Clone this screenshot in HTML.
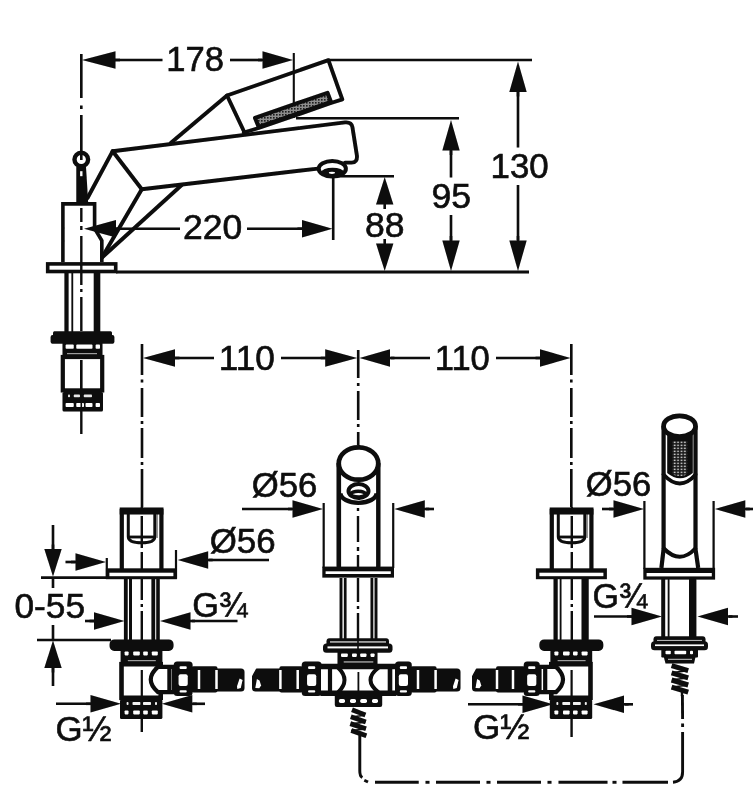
<!DOCTYPE html>
<html lang="en"><head><meta charset="utf-8"><title>Bath mixer dimensional drawing</title>
<style>
html,body{margin:0;padding:0;background:#fff;}
body{width:753px;height:800px;overflow:hidden;}
svg{display:block;}
svg text{font-family:"Liberation Sans",Arial,Helvetica,sans-serif;fill:#0a0a0a;stroke:#0a0a0a;stroke-width:0.6px;}
</style></head>
<body>
<svg width="753" height="800" viewBox="0 0 753 800">
<rect width="753" height="800" fill="#fff"/>
<defs><filter id="soft" x="0" y="0" width="753" height="800" filterUnits="userSpaceOnUse"><feGaussianBlur stdDeviation="0.45"/></filter></defs>
<g filter="url(#soft)">
<line x1="81.3" y1="54" x2="81.3" y2="98" stroke="#0a0a0a" stroke-width="2.6" />
<line x1="81.3" y1="105.5" x2="81.3" y2="109" stroke="#0a0a0a" stroke-width="2.6" />
<line x1="81.3" y1="115" x2="81.3" y2="152" stroke="#0a0a0a" stroke-width="2.6" />
<polygon points="82,60 115.5,51.3 115.5,68.7" fill="#0a0a0a" stroke="none" stroke-width="0" />
<line x1="114.5" y1="60" x2="120.0" y2="60" stroke="#0a0a0a" stroke-width="2.6" />
<line x1="115" y1="60" x2="162.5" y2="60" stroke="#0a0a0a" stroke-width="2.6" />
<text transform="translate(166.37,71.33) scale(0.9891,1)" font-size="35">178</text>
<line x1="230" y1="60" x2="262" y2="60" stroke="#0a0a0a" stroke-width="2.6" />
<polygon points="293,60 262.5,51.3 262.5,68.7" fill="#0a0a0a" stroke="none" stroke-width="0" />
<line x1="263.5" y1="60" x2="258.0" y2="60" stroke="#0a0a0a" stroke-width="2.6" />
<line x1="293.8" y1="53" x2="293.8" y2="118" stroke="#0a0a0a" stroke-width="2.1" />
<line x1="328" y1="60" x2="532" y2="60" stroke="#0a0a0a" stroke-width="2.6" />
<line x1="296" y1="118.3" x2="459" y2="118.3" stroke="#0a0a0a" stroke-width="2.6" />
<line x1="332" y1="176.3" x2="394" y2="176.3" stroke="#0a0a0a" stroke-width="2.6" />
<line x1="333.2" y1="176" x2="333.2" y2="240" stroke="#0a0a0a" stroke-width="2.6" />
<polygon points="84,228.7 116,220.0 116,237.39999999999998" fill="#0a0a0a" stroke="none" stroke-width="0" />
<line x1="115" y1="228.7" x2="120.5" y2="228.7" stroke="#0a0a0a" stroke-width="2.6" />
<line x1="116" y1="228.7" x2="180" y2="228.7" stroke="#0a0a0a" stroke-width="2.6" />
<text transform="translate(182.98,239.43) scale(1.0135,1)" font-size="35">220</text>
<line x1="247" y1="228.7" x2="302" y2="228.7" stroke="#0a0a0a" stroke-width="2.6" />
<polygon points="332.5,228.7 302.0,220.0 302.0,237.39999999999998" fill="#0a0a0a" stroke="none" stroke-width="0" />
<line x1="303.0" y1="228.7" x2="297.5" y2="228.7" stroke="#0a0a0a" stroke-width="2.6" />
<line x1="116" y1="272" x2="529" y2="272" stroke="#0a0a0a" stroke-width="3" />
<polygon points="384.7,177 376.0,204.5 393.4,204.5" fill="#0a0a0a" stroke="none" stroke-width="0" />
<line x1="384.7" y1="203.5" x2="384.7" y2="209.0" stroke="#0a0a0a" stroke-width="2.6" />
<polygon points="384.7,271 376.0,243.5 393.4,243.5" fill="#0a0a0a" stroke="none" stroke-width="0" />
<line x1="384.7" y1="244.5" x2="384.7" y2="239.0" stroke="#0a0a0a" stroke-width="2.6" />
<text transform="translate(364.93,236.93) scale(1.0164,1)" font-size="35">88</text>
<polygon points="451,120 442.3,150.5 459.7,150.5" fill="#0a0a0a" stroke="none" stroke-width="0" />
<line x1="451" y1="149.5" x2="451" y2="155.0" stroke="#0a0a0a" stroke-width="2.6" />
<line x1="451" y1="150" x2="451" y2="177.5" stroke="#0a0a0a" stroke-width="2.6" />
<text transform="translate(431.43,208.43) scale(1.0164,1)" font-size="35">95</text>
<line x1="451" y1="215" x2="451" y2="242" stroke="#0a0a0a" stroke-width="2.6" />
<polygon points="451,271 442.3,240.5 459.7,240.5" fill="#0a0a0a" stroke="none" stroke-width="0" />
<line x1="451" y1="241.5" x2="451" y2="236.0" stroke="#0a0a0a" stroke-width="2.6" />
<polygon points="518,61.5 509.3,92.0 526.7,92.0" fill="#0a0a0a" stroke="none" stroke-width="0" />
<line x1="518" y1="91.0" x2="518" y2="96.5" stroke="#0a0a0a" stroke-width="2.6" />
<line x1="518" y1="92" x2="518" y2="147.5" stroke="#0a0a0a" stroke-width="2.6" />
<text transform="translate(490.51,177.62) scale(0.9955,1)" font-size="35">130</text>
<line x1="518" y1="185" x2="518" y2="240" stroke="#0a0a0a" stroke-width="2.6" />
<polygon points="518,271 509.3,240.5 526.7,240.5" fill="#0a0a0a" stroke="none" stroke-width="0" />
<line x1="518" y1="241.5" x2="518" y2="236.0" stroke="#0a0a0a" stroke-width="2.6" />
<polyline points="171,142.7 227,95.5 328.4,60.2 342.3,99.3 331,103 258.7,128 243.8,132.5" fill="none" stroke="#0a0a0a" stroke-width="3.9" stroke-linejoin="round" stroke-linecap="round"/>
<polyline points="227,95.5 244.5,132.5" fill="none" stroke="#0a0a0a" stroke-width="3.9" stroke-linejoin="round" stroke-linecap="round"/>
<defs><pattern id="ht" width="3" height="3" patternUnits="userSpaceOnUse"><rect width="3" height="3" fill="#8c8c8c"/><rect width="1.6" height="1.6" fill="#1c1c1c"/></pattern></defs>
<polygon points="255,117.9 327.5,92.8 331,102 258.7,127" fill="url(#ht)" stroke="#0a0a0a" stroke-width="4" stroke-linejoin="round"/>
<path d="M112.7,151.2 L345,122.4 Q351.4,121.8 352.4,127 L356.9,155.5 Q357.6,162.6 351.5,162.6 L345,162.6" fill="none" stroke="#0a0a0a" stroke-width="3.9" stroke-linejoin="round" stroke-linecap="round"/>
<polyline points="141.8,189.2 318,168.6" fill="none" stroke="#0a0a0a" stroke-width="3.9" stroke-linejoin="round" stroke-linecap="round"/>
<polyline points="112.7,151.2 141.8,189.2" fill="none" stroke="#0a0a0a" stroke-width="3.9" stroke-linejoin="round" stroke-linecap="round"/>
<polyline points="112.7,151.2 87.5,198" fill="none" stroke="#0a0a0a" stroke-width="3.9" stroke-linejoin="round" stroke-linecap="round"/>
<polyline points="141.8,189.2 102,257.5" fill="none" stroke="#0a0a0a" stroke-width="3.9" stroke-linejoin="round" stroke-linecap="round"/>
<polyline points="181.7,185 102,257.5" fill="none" stroke="#0a0a0a" stroke-width="3.9" stroke-linejoin="round" stroke-linecap="round"/>
<ellipse cx="332.3" cy="168.8" rx="13.6" ry="7.8" fill="#fff" stroke="#0a0a0a" stroke-width="4"/>
<ellipse cx="332.6" cy="172.4" rx="11.2" ry="4.7" fill="#0a0a0a"/>
<ellipse cx="332" cy="172.8" rx="3.2" ry="1.1" fill="#fff"/>
<circle cx="81.3" cy="159.5" r="6.8" fill="#fff" stroke="#0a0a0a" stroke-width="4.4"/>
<line x1="81.3" y1="152" x2="81.3" y2="160" stroke="#0a0a0a" stroke-width="2.6" />
<polygon points="76.3,166.5 86,166.5 88.2,203 76.3,203" fill="#0a0a0a" stroke="none" stroke-width="0" />
<line x1="81.3" y1="171.2" x2="81.3" y2="176.2"  stroke-width="2.4" stroke="#fff"/>
<path d="M62.9,262 L62.9,203.9 L94.6,203.9 L94.6,228.5 L101.8,240.5 L101.8,262" fill="none" stroke="#0a0a0a" stroke-width="3.6" stroke-linejoin="miter"/>
<rect x="47.7" y="263.9" width="68" height="7.6" rx="0" fill="#fff" stroke="#0a0a0a" stroke-width="3.6"/>
<line x1="66.5" y1="273" x2="66.5" y2="332" stroke="#0a0a0a" stroke-width="4.2" />
<line x1="72.3" y1="273" x2="72.3" y2="332" stroke="#0a0a0a" stroke-width="1.8" />
<line x1="97" y1="273" x2="97" y2="332" stroke="#0a0a0a" stroke-width="6.6" />
<line x1="81.3" y1="208" x2="81.3" y2="222" stroke="#0a0a0a" stroke-width="2.4" />
<line x1="81.3" y1="226" x2="81.3" y2="230" stroke="#0a0a0a" stroke-width="2.4" />
<line x1="81.3" y1="236" x2="81.3" y2="262" stroke="#0a0a0a" stroke-width="2.4" />
<line x1="81.3" y1="262" x2="81.3" y2="285" stroke="#0a0a0a" stroke-width="2.4" />
<line x1="81.3" y1="289" x2="81.3" y2="292" stroke="#0a0a0a" stroke-width="2.4" />
<line x1="81.3" y1="297" x2="81.3" y2="331" stroke="#0a0a0a" stroke-width="2.4" />
<line x1="81.3" y1="356" x2="81.3" y2="392" stroke="#0a0a0a" stroke-width="2.4" />
<line x1="81.3" y1="410" x2="81.3" y2="434" stroke="#0a0a0a" stroke-width="2.4" />
<rect x="53" y="331.2" width="59" height="7" rx="1.5" fill="#0a0a0a"/>
<rect x="50.6" y="335" width="63.8" height="8.8" rx="2" fill="#0a0a0a"/>
<rect x="62.5" y="343" width="40" height="13" fill="#0a0a0a"/>
<rect x="65.6" y="344.6" width="8.15" height="4.2" rx="0.8" fill="#fff" opacity="1"/>
<rect x="76.25" y="344.6" width="16.25" height="4.2" rx="0.8" fill="#fff" opacity="1"/>
<rect x="95.6" y="344.6" width="4.4" height="4.2" rx="0.8" fill="#fff" opacity="1"/>
<rect x="67" y="353.2" width="30" height="1.0" rx="0" fill="#fff" opacity="0.75"/>
<rect x="62.8" y="357" width="39.4" height="33.4" rx="0" fill="#fff" stroke="#0a0a0a" stroke-width="4.2"/>
<line x1="81.3" y1="360" x2="81.3" y2="392" stroke="#0a0a0a" stroke-width="2.6" />
<rect x="62.5" y="392" width="40.5" height="19.4" rx="1.5" fill="#0a0a0a"/>
<rect x="68" y="394.6" width="2" height="2.7" rx="0.8" fill="#fff" opacity="0.9"/>
<rect x="73.75" y="394.6" width="6.25" height="2.7" rx="0.8" fill="#fff" opacity="0.9"/>
<rect x="83.75" y="394.6" width="8.25" height="2.7" rx="0.8" fill="#fff" opacity="0.9"/>
<rect x="65.6" y="403" width="8.15" height="4" rx="0.8" fill="#fff" opacity="1"/>
<rect x="76.25" y="403" width="7.75" height="4" rx="0.8" fill="#fff" opacity="1"/>
<rect x="85.5" y="403" width="7.0" height="4" rx="0.8" fill="#fff" opacity="1"/>
<rect x="95.6" y="403" width="4.4" height="4" rx="0.8" fill="#fff" opacity="1"/>
<line x1="81.3" y1="392" x2="81.3" y2="412" stroke="#0a0a0a" stroke-width="1.6" />
<line x1="142" y1="344" x2="142" y2="375" stroke="#0a0a0a" stroke-width="2.6" />
<line x1="142" y1="379.5" x2="142" y2="382.5" stroke="#0a0a0a" stroke-width="2.6" />
<line x1="142" y1="388" x2="142" y2="417" stroke="#0a0a0a" stroke-width="2.6" />
<line x1="142" y1="421" x2="142" y2="424" stroke="#0a0a0a" stroke-width="2.6" />
<line x1="142" y1="428" x2="142" y2="458" stroke="#0a0a0a" stroke-width="2.6" />
<line x1="142" y1="462" x2="142" y2="465" stroke="#0a0a0a" stroke-width="2.6" />
<line x1="142" y1="469" x2="142" y2="507" stroke="#0a0a0a" stroke-width="2.6" />
<line x1="571.3" y1="344" x2="571.3" y2="375" stroke="#0a0a0a" stroke-width="2.6" />
<line x1="571.3" y1="379.5" x2="571.3" y2="382.5" stroke="#0a0a0a" stroke-width="2.6" />
<line x1="571.3" y1="388" x2="571.3" y2="417" stroke="#0a0a0a" stroke-width="2.6" />
<line x1="571.3" y1="421" x2="571.3" y2="424" stroke="#0a0a0a" stroke-width="2.6" />
<line x1="571.3" y1="428" x2="571.3" y2="458" stroke="#0a0a0a" stroke-width="2.6" />
<line x1="571.3" y1="462" x2="571.3" y2="465" stroke="#0a0a0a" stroke-width="2.6" />
<line x1="571.3" y1="469" x2="571.3" y2="507" stroke="#0a0a0a" stroke-width="2.6" />
<line x1="358.2" y1="350" x2="358.2" y2="378" stroke="#0a0a0a" stroke-width="2.6" />
<line x1="358.2" y1="383" x2="358.2" y2="386" stroke="#0a0a0a" stroke-width="2.6" />
<line x1="358.2" y1="391" x2="358.2" y2="420" stroke="#0a0a0a" stroke-width="2.6" />
<line x1="358.2" y1="424" x2="358.2" y2="427" stroke="#0a0a0a" stroke-width="2.6" />
<line x1="358.2" y1="432" x2="358.2" y2="445" stroke="#0a0a0a" stroke-width="2.6" />
<polygon points="143,358 175,349.3 175,366.7" fill="#0a0a0a" stroke="none" stroke-width="0" />
<line x1="174" y1="358" x2="179.5" y2="358" stroke="#0a0a0a" stroke-width="2.6" />
<line x1="175" y1="358" x2="214" y2="358" stroke="#0a0a0a" stroke-width="2.6" />
<text transform="translate(218.74,369.52) scale(1.0048,1)" font-size="35">110</text>
<line x1="281" y1="358" x2="326" y2="358" stroke="#0a0a0a" stroke-width="2.6" />
<polygon points="357.2,358 325.2,349.3 325.2,366.7" fill="#0a0a0a" stroke="none" stroke-width="0" />
<line x1="326.2" y1="358" x2="320.7" y2="358" stroke="#0a0a0a" stroke-width="2.6" />
<polygon points="359.5,358 390.0,349.3 390.0,366.7" fill="#0a0a0a" stroke="none" stroke-width="0" />
<line x1="389.0" y1="358" x2="394.5" y2="358" stroke="#0a0a0a" stroke-width="2.6" />
<line x1="391" y1="358" x2="430" y2="358" stroke="#0a0a0a" stroke-width="2.6" />
<text transform="translate(434.78,369.52) scale(0.9857,1)" font-size="35">110</text>
<line x1="496" y1="358" x2="540" y2="358" stroke="#0a0a0a" stroke-width="2.6" />
<polygon points="570.5,358 540.0,349.3 540.0,366.7" fill="#0a0a0a" stroke="none" stroke-width="0" />
<line x1="541.0" y1="358" x2="535.5" y2="358" stroke="#0a0a0a" stroke-width="2.6" />
<text transform="translate(251.76,497.40) scale(0.9922,1)" font-size="35">Ø56</text>
<line x1="242" y1="509" x2="292" y2="509" stroke="#0a0a0a" stroke-width="2.6" />
<polygon points="323,509 292.5,500.3 292.5,517.7" fill="#0a0a0a" stroke="none" stroke-width="0" />
<line x1="293.5" y1="509" x2="288.0" y2="509" stroke="#0a0a0a" stroke-width="2.6" />
<line x1="323.7" y1="503" x2="323.7" y2="568" stroke="#0a0a0a" stroke-width="2.2" />
<line x1="393.2" y1="503" x2="393.2" y2="568" stroke="#0a0a0a" stroke-width="2.2" />
<polygon points="394.3,509 424.8,500.3 424.8,517.7" fill="#0a0a0a" stroke="none" stroke-width="0" />
<line x1="423.8" y1="509" x2="429.3" y2="509" stroke="#0a0a0a" stroke-width="2.6" />
<line x1="426" y1="509" x2="434" y2="509" stroke="#0a0a0a" stroke-width="2.6" />
<text transform="translate(209.75,553.20) scale(0.9961,1)" font-size="35">Ø56</text>
<polygon points="177.7,560 208.2,551.3 208.2,568.7" fill="#0a0a0a" stroke="none" stroke-width="0" />
<line x1="207.2" y1="560" x2="212.7" y2="560" stroke="#0a0a0a" stroke-width="2.6" />
<line x1="209" y1="560" x2="269" y2="560" stroke="#0a0a0a" stroke-width="2.6" />
<line x1="65.5" y1="562" x2="76" y2="562" stroke="#0a0a0a" stroke-width="2.6" />
<polygon points="106,562 75.5,553.3 75.5,570.7" fill="#0a0a0a" stroke="none" stroke-width="0" />
<line x1="76.5" y1="562" x2="71.0" y2="562" stroke="#0a0a0a" stroke-width="2.6" />
<text transform="translate(585.76,495.50) scale(0.9883,1)" font-size="35">Ø56</text>
<line x1="602" y1="509" x2="613" y2="509" stroke="#0a0a0a" stroke-width="2.6" />
<polygon points="644,509 613.5,500.3 613.5,517.7" fill="#0a0a0a" stroke="none" stroke-width="0" />
<line x1="614.5" y1="509" x2="609.0" y2="509" stroke="#0a0a0a" stroke-width="2.6" />
<line x1="644.4" y1="501" x2="644.4" y2="569" stroke="#0a0a0a" stroke-width="2.2" />
<line x1="713.6" y1="501" x2="713.6" y2="569" stroke="#0a0a0a" stroke-width="2.2" />
<polygon points="714.8,509 745.3,500.3 745.3,517.7" fill="#0a0a0a" stroke="none" stroke-width="0" />
<line x1="744.3" y1="509" x2="749.8" y2="509" stroke="#0a0a0a" stroke-width="2.6" />
<line x1="746" y1="509" x2="753" y2="509" stroke="#0a0a0a" stroke-width="2.6" />
<line x1="53" y1="525" x2="53" y2="549" stroke="#0a0a0a" stroke-width="2.6" />
<polygon points="53,576.5 44.3,549.0 61.7,549.0" fill="#0a0a0a" stroke="none" stroke-width="0" />
<line x1="53" y1="550.0" x2="53" y2="544.5" stroke="#0a0a0a" stroke-width="2.6" />
<line x1="53" y1="577" x2="53" y2="588" stroke="#0a0a0a" stroke-width="2.6" />
<line x1="41" y1="577.6" x2="107" y2="577.6" stroke="#0a0a0a" stroke-width="2.6" />
<text transform="translate(14.49,617.73) scale(1.0074,1)" font-size="35">0-55</text>
<line x1="53" y1="625" x2="53" y2="640" stroke="#0a0a0a" stroke-width="2.6" />
<line x1="37" y1="640" x2="111" y2="640" stroke="#0a0a0a" stroke-width="2.6" />
<polygon points="53,640.5 44.3,668.0 61.7,668.0" fill="#0a0a0a" stroke="none" stroke-width="0" />
<line x1="53" y1="667.0" x2="53" y2="672.5" stroke="#0a0a0a" stroke-width="2.6" />
<line x1="53" y1="668" x2="53" y2="686" stroke="#0a0a0a" stroke-width="2.6" />
<line x1="85" y1="621" x2="95" y2="621" stroke="#0a0a0a" stroke-width="2.6" />
<polygon points="124.5,621 94.0,612.3 94.0,629.7" fill="#0a0a0a" stroke="none" stroke-width="0" />
<line x1="95.0" y1="621" x2="89.5" y2="621" stroke="#0a0a0a" stroke-width="2.6" />
<polygon points="160,621 190.5,612.3 190.5,629.7" fill="#0a0a0a" stroke="none" stroke-width="0" />
<line x1="189.5" y1="621" x2="195.0" y2="621" stroke="#0a0a0a" stroke-width="2.6" />
<line x1="192" y1="621" x2="237.5" y2="621" stroke="#0a0a0a" stroke-width="2.6" />
<text transform="translate(192.28,617.48) scale(0.9775,1)" font-size="35">G¾</text>
<line x1="56" y1="703.8" x2="96" y2="703.8" stroke="#0a0a0a" stroke-width="2.6" />
<polygon points="121,703.8 90.5,695.0999999999999 90.5,712.5" fill="#0a0a0a" stroke="none" stroke-width="0" />
<line x1="91.5" y1="703.8" x2="86.0" y2="703.8" stroke="#0a0a0a" stroke-width="2.6" />
<polygon points="161.8,703.8 192.3,695.0999999999999 192.3,712.5" fill="#0a0a0a" stroke="none" stroke-width="0" />
<line x1="191.3" y1="703.8" x2="196.8" y2="703.8" stroke="#0a0a0a" stroke-width="2.6" />
<line x1="193" y1="703.8" x2="205" y2="703.8" stroke="#0a0a0a" stroke-width="2.6" />
<text transform="translate(55.51,741.38) scale(0.9954,1)" font-size="35">G½</text>
<text transform="translate(592.50,608.12) scale(0.9700,1)" font-size="35">G¾</text>
<line x1="594" y1="616.5" x2="635" y2="616.5" stroke="#0a0a0a" stroke-width="2.6" />
<polygon points="662,616.5 631.5,607.8 631.5,625.2" fill="#0a0a0a" stroke="none" stroke-width="0" />
<line x1="632.5" y1="616.5" x2="627.0" y2="616.5" stroke="#0a0a0a" stroke-width="2.6" />
<polygon points="697.5,616.5 728.0,607.8 728.0,625.2" fill="#0a0a0a" stroke="none" stroke-width="0" />
<line x1="727.0" y1="616.5" x2="732.5" y2="616.5" stroke="#0a0a0a" stroke-width="2.6" />
<line x1="729" y1="616.5" x2="738" y2="616.5" stroke="#0a0a0a" stroke-width="2.6" />
<text transform="translate(472.99,738.92) scale(1.0046,1)" font-size="35">G½</text>
<line x1="468" y1="704.3" x2="526" y2="704.3" stroke="#0a0a0a" stroke-width="2.6" />
<polygon points="553,704.3 522.5,695.5999999999999 522.5,713.0" fill="#0a0a0a" stroke="none" stroke-width="0" />
<line x1="523.5" y1="704.3" x2="518.0" y2="704.3" stroke="#0a0a0a" stroke-width="2.6" />
<polygon points="593.5,704.3 624.0,695.5999999999999 624.0,713.0" fill="#0a0a0a" stroke="none" stroke-width="0" />
<line x1="623.0" y1="704.3" x2="628.5" y2="704.3" stroke="#0a0a0a" stroke-width="2.6" />
<line x1="625" y1="704.3" x2="633" y2="704.3" stroke="#0a0a0a" stroke-width="2.6" />
<path d="M121.80000000000001,569 L121.80000000000001,511 L161.4,511 L161.4,569" fill="none" stroke="#0a0a0a" stroke-width="4.2" stroke-linejoin="miter"/>
<line x1="119.70000000000002" y1="511" x2="163.5" y2="511" stroke="#0a0a0a" stroke-width="6.8" />
<path d="M128.3,514 L128.3,536.8 Q128.3,542.8 141.8,542.8 Q154.8,542.8 154.8,536.8 L154.8,514" fill="none" stroke="#0a0a0a" stroke-width="3" stroke-linejoin="round" stroke-linecap="round"/>
<line x1="128.3" y1="537" x2="154.8" y2="537" stroke="#0a0a0a" stroke-width="2.8" />
<line x1="157.10000000000002" y1="514" x2="157.10000000000002" y2="538" stroke="#0a0a0a" stroke-width="1.2" opacity="0.6"/>
<rect x="105.9" y="568.3" width="71" height="10.9" fill="#0a0a0a"/>
<rect x="109.4" y="572.7" width="64" height="3.5" fill="#fff"/>
<line x1="106.80000000000001" y1="558" x2="106.80000000000001" y2="578.7" stroke="#0a0a0a" stroke-width="2.2" />
<line x1="176.0" y1="550" x2="176.0" y2="578.7" stroke="#0a0a0a" stroke-width="2.2" />
<line x1="141.8" y1="507" x2="141.8" y2="512" stroke="#0a0a0a" stroke-width="2.4" />
<line x1="141.8" y1="516" x2="141.8" y2="548" stroke="#0a0a0a" stroke-width="2.4" />
<line x1="141.8" y1="552" x2="141.8" y2="570" stroke="#0a0a0a" stroke-width="2.4" />
<line x1="141.8" y1="578" x2="141.8" y2="600" stroke="#0a0a0a" stroke-width="2.4" />
<line x1="141.8" y1="604" x2="141.8" y2="607" stroke="#0a0a0a" stroke-width="2.4" />
<line x1="141.8" y1="611" x2="141.8" y2="640" stroke="#0a0a0a" stroke-width="2.4" />
<path d="M551.8,569 L551.8,511 L591.4,511 L591.4,569" fill="none" stroke="#0a0a0a" stroke-width="4.2" stroke-linejoin="miter"/>
<line x1="549.6999999999999" y1="511" x2="593.5" y2="511" stroke="#0a0a0a" stroke-width="6.8" />
<path d="M558.3,514 L558.3,536.8 Q558.3,542.8 571.8,542.8 Q584.8,542.8 584.8,536.8 L584.8,514" fill="none" stroke="#0a0a0a" stroke-width="3" stroke-linejoin="round" stroke-linecap="round"/>
<line x1="558.3" y1="537" x2="584.8" y2="537" stroke="#0a0a0a" stroke-width="2.8" />
<line x1="587.0999999999999" y1="514" x2="587.0999999999999" y2="538" stroke="#0a0a0a" stroke-width="1.2" opacity="0.6"/>
<rect x="535.9" y="568.3" width="71" height="10.9" fill="#0a0a0a"/>
<rect x="539.4" y="572.7" width="64" height="3.5" fill="#fff"/>
<line x1="571.8" y1="507" x2="571.8" y2="512" stroke="#0a0a0a" stroke-width="2.4" />
<line x1="571.8" y1="516" x2="571.8" y2="548" stroke="#0a0a0a" stroke-width="2.4" />
<line x1="571.8" y1="552" x2="571.8" y2="570" stroke="#0a0a0a" stroke-width="2.4" />
<line x1="571.8" y1="578" x2="571.8" y2="600" stroke="#0a0a0a" stroke-width="2.4" />
<line x1="571.8" y1="604" x2="571.8" y2="607" stroke="#0a0a0a" stroke-width="2.4" />
<line x1="571.8" y1="611" x2="571.8" y2="640" stroke="#0a0a0a" stroke-width="2.4" />
<line x1="125.80000000000001" y1="578.5" x2="125.80000000000001" y2="640" stroke="#0a0a0a" stroke-width="3.8" />
<line x1="130.5" y1="578.5" x2="130.5" y2="640" stroke="#0a0a0a" stroke-width="3" />
<line x1="153.3" y1="578.5" x2="153.3" y2="640" stroke="#0a0a0a" stroke-width="3.8" />
<line x1="158.0" y1="578.5" x2="158.0" y2="640" stroke="#0a0a0a" stroke-width="3.6" />
<rect x="110.30000000000001" y="640.2" width="62.5" height="10" rx="4" fill="#0a0a0a" stroke="#0a0a0a" stroke-width="1.5"/>
<rect x="120.60000000000001" y="650" width="41.8" height="13" fill="#0a0a0a"/>
<rect x="124.60000000000001" y="651.4" width="4.0" height="4.0" rx="0.8" fill="#fff" opacity="1"/>
<rect x="133.20000000000002" y="651.4" width="6.6" height="4.0" rx="0.8" fill="#fff" opacity="1"/>
<rect x="143.20000000000002" y="651.4" width="4.6" height="4.0" rx="0.8" fill="#fff" opacity="1"/>
<rect x="151.8" y="651.4" width="6.0" height="4.0" rx="0.8" fill="#fff" opacity="1"/>
<rect x="127.80000000000001" y="660.2" width="28.0" height="1.0" rx="0" fill="#fff" opacity="0.75"/>
<rect x="121.50000000000001" y="664.2" width="39.2" height="33.6" rx="0" fill="#fff" stroke="#0a0a0a" stroke-width="4.6"/>
<line x1="141.8" y1="670" x2="141.8" y2="698" stroke="#0a0a0a" stroke-width="2.2" />
<rect x="120.00000000000001" y="699.6" width="42.4" height="19.4" rx="1.5" fill="#0a0a0a"/>
<rect x="126.60000000000001" y="701.9" width="1.9" height="3.1" rx="0.8" fill="#fff" opacity="0.95"/>
<rect x="132.5" y="701.9" width="8.1" height="3.1" rx="0.8" fill="#fff" opacity="0.95"/>
<rect x="143.0" y="701.9" width="8.0" height="3.1" rx="0.8" fill="#fff" opacity="0.95"/>
<rect x="155.0" y="701.9" width="2.0" height="3.1" rx="0.8" fill="#fff" opacity="0.95"/>
<rect x="124.60000000000001" y="710.4" width="3.9" height="4.0" rx="0.8" fill="#fff" opacity="1"/>
<rect x="133.20000000000002" y="710.4" width="6.6" height="4.0" rx="0.8" fill="#fff" opacity="1"/>
<rect x="143.20000000000002" y="710.4" width="4.6" height="4.0" rx="0.8" fill="#fff" opacity="1"/>
<rect x="151.8" y="710.4" width="6.0" height="4.0" rx="0.8" fill="#fff" opacity="1"/>
<line x1="141.8" y1="699" x2="141.8" y2="732" stroke="#0a0a0a" stroke-width="2.4" />
<line x1="555.6" y1="578.5" x2="555.6" y2="640" stroke="#0a0a0a" stroke-width="4.2" />
<line x1="560.6" y1="578.5" x2="560.6" y2="640" stroke="#0a0a0a" stroke-width="1.8" />
<line x1="585.1" y1="578.5" x2="585.1" y2="640" stroke="#0a0a0a" stroke-width="7.2" />
<rect x="540.1" y="640.2" width="62.5" height="10" rx="4" fill="#0a0a0a" stroke="#0a0a0a" stroke-width="1.5"/>
<rect x="550.4" y="650" width="41.8" height="13" fill="#0a0a0a"/>
<rect x="554.4" y="651.4" width="4.0" height="4.0" rx="0.8" fill="#fff" opacity="1"/>
<rect x="563.0" y="651.4" width="6.6" height="4.0" rx="0.8" fill="#fff" opacity="1"/>
<rect x="573.0" y="651.4" width="4.6" height="4.0" rx="0.8" fill="#fff" opacity="1"/>
<rect x="581.6" y="651.4" width="6.0" height="4.0" rx="0.8" fill="#fff" opacity="1"/>
<rect x="557.6" y="660.2" width="28.0" height="1.0" rx="0" fill="#fff" opacity="0.75"/>
<rect x="551.3000000000001" y="664.2" width="39.2" height="33.6" rx="0" fill="#fff" stroke="#0a0a0a" stroke-width="4.6"/>
<line x1="571.6" y1="670" x2="571.6" y2="698" stroke="#0a0a0a" stroke-width="2.2" />
<rect x="549.8000000000001" y="699.6" width="42.4" height="19.4" rx="1.5" fill="#0a0a0a"/>
<rect x="556.4" y="701.9" width="1.9" height="3.1" rx="0.8" fill="#fff" opacity="0.95"/>
<rect x="562.3000000000001" y="701.9" width="8.1" height="3.1" rx="0.8" fill="#fff" opacity="0.95"/>
<rect x="572.8000000000001" y="701.9" width="8.0" height="3.1" rx="0.8" fill="#fff" opacity="0.95"/>
<rect x="584.8000000000001" y="701.9" width="2.0" height="3.1" rx="0.8" fill="#fff" opacity="0.95"/>
<rect x="554.4" y="710.4" width="3.9" height="4.0" rx="0.8" fill="#fff" opacity="1"/>
<rect x="563.0" y="710.4" width="6.6" height="4.0" rx="0.8" fill="#fff" opacity="1"/>
<rect x="573.0" y="710.4" width="4.6" height="4.0" rx="0.8" fill="#fff" opacity="1"/>
<rect x="581.6" y="710.4" width="6.0" height="4.0" rx="0.8" fill="#fff" opacity="1"/>
<line x1="571.6" y1="699" x2="571.6" y2="737" stroke="#0a0a0a" stroke-width="2.4" />
<rect x="338.7" y="463" width="39.6" height="105" fill="#fff"/>
<line x1="338.8" y1="463" x2="338.8" y2="568" stroke="#0a0a0a" stroke-width="4.6" />
<line x1="378.3" y1="463" x2="378.3" y2="568" stroke="#0a0a0a" stroke-width="4.4" />
<ellipse cx="358.5" cy="463.5" rx="19.75" ry="16.2" fill="#fff" stroke="#0a0a0a" stroke-width="4.7"/>
<path d="M340.5,493.2 A18,9.6 0 0 0 376.5,493.2" fill="none" stroke="#0a0a0a" stroke-width="4.3" stroke-linecap="butt"/>
<ellipse cx="358.5" cy="491" rx="10" ry="7" fill="#fff" stroke="#0a0a0a" stroke-width="4"/>
<ellipse cx="358.2" cy="494.2" rx="7.3" ry="2.9" fill="#fff" stroke="#0a0a0a" stroke-width="3.6"/>
<rect x="322.3" y="566.6" width="71.7" height="11" fill="#0a0a0a"/>
<rect x="325.6" y="571.3" width="65.2" height="2.7" fill="#fff"/>
<line x1="358" y1="508" x2="358" y2="511" stroke="#0a0a0a" stroke-width="2.4" />
<line x1="358" y1="516" x2="358" y2="542" stroke="#0a0a0a" stroke-width="2.4" />
<line x1="358" y1="547" x2="358" y2="551" stroke="#0a0a0a" stroke-width="2.4" />
<line x1="358" y1="555" x2="358" y2="568" stroke="#0a0a0a" stroke-width="2.4" />
<line x1="358" y1="578" x2="358" y2="602" stroke="#0a0a0a" stroke-width="2.4" />
<line x1="358" y1="606" x2="358" y2="609" stroke="#0a0a0a" stroke-width="2.4" />
<line x1="358" y1="613" x2="358" y2="640" stroke="#0a0a0a" stroke-width="2.4" />
<line x1="341" y1="578" x2="341" y2="639" stroke="#0a0a0a" stroke-width="2.9" />
<line x1="345.2" y1="578" x2="345.2" y2="639" stroke="#0a0a0a" stroke-width="2.7" />
<line x1="371.9" y1="578" x2="371.9" y2="639" stroke="#0a0a0a" stroke-width="2.8" />
<line x1="376" y1="578" x2="376" y2="639" stroke="#0a0a0a" stroke-width="2.9" />
<rect x="326.5" y="638.3" width="62.5" height="8" rx="3" fill="#0a0a0a"/>
<rect x="323" y="643.6" width="69.5" height="9.2" rx="3.5" fill="#0a0a0a"/>
<rect x="330" y="641.4" width="56" height="1.1" fill="#fff"/>
<rect x="327.5" y="646.4" width="60.5" height="2" fill="#fff"/>
<line x1="358" y1="638" x2="358" y2="652" stroke="#0a0a0a" stroke-width="1.6" />
<rect x="337.5" y="651" width="40" height="13.5" fill="#0a0a0a"/>
<rect x="341" y="653.4" width="6.8" height="3.5" rx="0.8" fill="#fff" opacity="1"/>
<rect x="352" y="653.4" width="4.8" height="3.5" rx="0.8" fill="#fff" opacity="1"/>
<rect x="360.2" y="653.4" width="6.3" height="3.5" rx="0.8" fill="#fff" opacity="1"/>
<rect x="370.5" y="653.4" width="4.1" height="3.5" rx="0.8" fill="#fff" opacity="1"/>
<rect x="343.7" y="661.4" width="29.6" height="1.1" rx="0" fill="#fff" opacity="0.8"/>
<rect x="334.8" y="694.5" width="47.4" height="12.5" rx="2" fill="#0a0a0a"/>
<rect x="338.9" y="698.9" width="6.100000000000023" height="4" rx="1.6" fill="#fff"/>
<rect x="350" y="698.9" width="6" height="4" rx="1.6" fill="#fff"/>
<rect x="360.2" y="698.9" width="6.800000000000011" height="4" rx="1.6" fill="#fff"/>
<rect x="372" y="698.9" width="6" height="4" rx="1.6" fill="#fff"/>
<line x1="358.4" y1="696" x2="358.4" y2="707" stroke="#0a0a0a" stroke-width="1.4" />
<line x1="352" y1="709.8" x2="365.4" y2="715.0" stroke="#0a0a0a" stroke-width="4.8" stroke-linecap="butt"/>
<line x1="364.9" y1="715.1999999999999" x2="352.8" y2="716.8" stroke="#0a0a0a" stroke-width="1.6" />
<line x1="350.8" y1="716.6999999999999" x2="365.8" y2="721.9" stroke="#0a0a0a" stroke-width="4.8" stroke-linecap="butt"/>
<line x1="365.3" y1="722.0999999999999" x2="351.6" y2="723.6999999999999" stroke="#0a0a0a" stroke-width="1.6" />
<line x1="350.3" y1="723.5999999999999" x2="366" y2="728.8" stroke="#0a0a0a" stroke-width="4.8" stroke-linecap="butt"/>
<line x1="365.5" y1="728.9999999999999" x2="351.1" y2="730.5999999999999" stroke="#0a0a0a" stroke-width="1.6" />
<line x1="351.3" y1="730.5" x2="366.4" y2="735.7" stroke="#0a0a0a" stroke-width="4.8" stroke-linecap="butt"/>
<path d="M158,666.9 L174,666.9 L174,692.1 L158,692.1 Q143.5,679.5 158,666.9 Z" fill="#fff" stroke="#0a0a0a" stroke-width="4.2" stroke-linejoin="round" stroke-linecap="round"/>
<line x1="169.4" y1="667" x2="169.4" y2="692" stroke="#0a0a0a" stroke-width="4.2" />
<rect x="173.7" y="661.5" width="18.900000000000006" height="34.5" rx="3.5" fill="#0a0a0a"/>
<rect x="178.54999999999998" y="674.3" width="9.2" height="11.6" rx="2" fill="#fff"/>
<rect x="179.54999999999998" y="666.3" width="7.2" height="2.6" rx="1" fill="#fff"/>
<rect x="179.54999999999998" y="690.2" width="7.2" height="2.4" rx="1" fill="#fff"/>
<rect x="191.5" y="668.6" width="53.0" height="22.8" rx="3.5" fill="#0a0a0a"/>
<rect x="191.5" y="666.2" width="26.0" height="26.4" rx="2" fill="#0a0a0a"/>
<rect x="197.75" y="670" width="2.5" height="19" fill="#fff"/>
<rect x="215.25" y="670" width="2.5" height="19" fill="#fff"/>
<polygon points="239.6,678.6 242.6,680 240.8,688 237.3,688.9 237,686.2" fill="#fff" stroke="none" stroke-width="0" />
<rect x="252" y="668.6" width="51" height="22.8" rx="3.5" fill="#0a0a0a"/>
<rect x="279.4" y="666.2" width="23.600000000000023" height="26.4" rx="2" fill="#0a0a0a"/>
<rect x="279.15" y="670" width="2.5" height="19" fill="#fff"/>
<rect x="296.45" y="670" width="2.5" height="19" fill="#fff"/>
<polygon points="256.90000000000003,679 259.5,680.6 261.1,685.6 259.3,688.3 255.3,688" fill="#fff" stroke="none" stroke-width="0" />
<polygon points="251,667 257,667 251.5,677" fill="#fff"/>
<rect x="301.7" y="661.5" width="19.900000000000034" height="34.5" rx="3.5" fill="#0a0a0a"/>
<rect x="307.04999999999995" y="674.3" width="9.2" height="11.6" rx="2" fill="#fff"/>
<rect x="308.04999999999995" y="666.3" width="7.2" height="2.6" rx="1" fill="#fff"/>
<rect x="308.04999999999995" y="690.2" width="7.2" height="2.4" rx="1" fill="#fff"/>
<rect x="321" y="664" width="74.5" height="32" fill="#fff"/>
<line x1="320.5" y1="666.4" x2="396" y2="666.4" stroke="#0a0a0a" stroke-width="5.5" />
<line x1="320.5" y1="693.3" x2="396" y2="693.3" stroke="#0a0a0a" stroke-width="5.5" />
<line x1="330" y1="667" x2="330" y2="693" stroke="#0a0a0a" stroke-width="4.2" />
<line x1="390" y1="667" x2="390" y2="693" stroke="#0a0a0a" stroke-width="4.6" />
<path d="M338,667.5 Q351,680 338,692.5" fill="none" stroke="#0a0a0a" stroke-width="4" stroke-linecap="butt"/>
<path d="M378.8,667.5 Q362.2,680 378.8,692.5" fill="none" stroke="#0a0a0a" stroke-width="4" stroke-linecap="butt"/>
<line x1="358.4" y1="672" x2="358.4" y2="691" stroke="#0a0a0a" stroke-width="1.8" />
<rect x="395" y="661.5" width="16.80000000000001" height="34.5" rx="3.5" fill="#0a0a0a"/>
<rect x="398.79999999999995" y="674.3" width="9.2" height="11.6" rx="2" fill="#fff"/>
<rect x="399.79999999999995" y="666.3" width="7.2" height="2.6" rx="1" fill="#fff"/>
<rect x="399.79999999999995" y="690.2" width="7.2" height="2.4" rx="1" fill="#fff"/>
<rect x="410.5" y="668.6" width="50.0" height="22.8" rx="3.5" fill="#0a0a0a"/>
<rect x="410.5" y="666.2" width="26.100000000000023" height="26.4" rx="2" fill="#0a0a0a"/>
<rect x="416.75" y="670" width="2.5" height="19" fill="#fff"/>
<rect x="434.35" y="670" width="2.5" height="19" fill="#fff"/>
<polygon points="455.6,678.6 458.6,680 456.8,688 453.3,688.9 453,686.2" fill="#fff" stroke="none" stroke-width="0" />
<rect x="472" y="668.6" width="53" height="22.8" rx="3.5" fill="#0a0a0a"/>
<rect x="496" y="666.2" width="29" height="26.4" rx="2" fill="#0a0a0a"/>
<rect x="495.75" y="670" width="2.5" height="19" fill="#fff"/>
<rect x="511.75" y="670" width="2.5" height="19" fill="#fff"/>
<polygon points="477.1,679 479.7,680.6 481.3,685.6 479.5,688.3 475.5,688" fill="#fff" stroke="none" stroke-width="0" />
<polygon points="471,667 477,667 471.5,677" fill="#fff"/>
<rect x="523.7" y="661.5" width="16.09999999999991" height="34.5" rx="3.5" fill="#0a0a0a"/>
<rect x="527.15" y="674.3" width="9.2" height="11.6" rx="2" fill="#fff"/>
<rect x="528.15" y="666.3" width="7.2" height="2.6" rx="1" fill="#fff"/>
<rect x="528.15" y="690.2" width="7.2" height="2.4" rx="1" fill="#fff"/>
<path d="M556,666.9 L539.5,666.9 L539.5,692.1 L556,692.1 Q570,679.5 556,666.9 Z" fill="#fff" stroke="#0a0a0a" stroke-width="4.2" stroke-linejoin="round" stroke-linecap="round"/>
<line x1="545.2" y1="667" x2="545.2" y2="692" stroke="#0a0a0a" stroke-width="4.2" />
<rect x="663.5" y="426" width="32" height="142" fill="#fff"/>
<defs><pattern id="ht2" width="3.4" height="3" patternUnits="userSpaceOnUse"><rect width="3.4" height="3" fill="#1a1a1a"/><rect x="0.6" y="0.6" width="1.7" height="1.5" fill="#c8c8c8"/></pattern></defs>
<path d="M667.2,432 L667.2,473 Q680,483.5 692.8,473 L692.8,432 Z" fill="#0a0a0a"/>
<path d="M672.6,441 L672.6,474.5 Q680,478 687.2,474.5 L687.2,441 Z" fill="url(#ht2)"/>
<path d="M663.5,474.5 Q680,492.5 695.6,474.5" fill="none" stroke="#0a0a0a" stroke-width="3.8" stroke-linejoin="round" stroke-linecap="round"/>
<path d="M661.4,568 L663.6,549 L663.6,426.3 M695.5,426.3 L695.5,549 L698.2,568" fill="none" stroke="#0a0a0a" stroke-width="4.2" stroke-linejoin="round"/>
<ellipse cx="679.55" cy="426.2" rx="16" ry="10.4" fill="#fff" stroke="#0a0a0a" stroke-width="4.8"/>
<path d="M663.8,548.5 Q680,565 695.3,548.5" fill="none" stroke="#0a0a0a" stroke-width="4" stroke-linejoin="round" stroke-linecap="round"/>
<rect x="643.3" y="567.8" width="71.8" height="11.8" fill="#0a0a0a"/>
<rect x="646.6" y="573" width="65.2" height="3.4" fill="#fff"/>
<line x1="663.2" y1="579" x2="663.2" y2="638" stroke="#0a0a0a" stroke-width="4" />
<line x1="668.6" y1="579" x2="668.6" y2="638" stroke="#0a0a0a" stroke-width="1.8" />
<line x1="692.7" y1="579" x2="692.7" y2="638" stroke="#0a0a0a" stroke-width="7.4" />
<rect x="653.5" y="636.3" width="52" height="8" rx="3" fill="#0a0a0a"/>
<rect x="651" y="641.3" width="57" height="9" rx="3.5" fill="#0a0a0a"/>
<rect x="657" y="639.9" width="45" height="0.9" fill="#fff" opacity="0.85"/>
<rect x="655" y="644.4" width="49" height="1.7" fill="#fff"/>
<rect x="661.3" y="649" width="36.7" height="8.4" rx="1" fill="#0a0a0a"/>
<path d="M663.8,657 L695.5,657 L694,663.6 L665.5,663.6 Z" fill="#0a0a0a"/>
<rect x="665.5" y="650.7" width="5.3" height="3.6" rx="0.8" fill="#fff" opacity="1"/>
<rect x="674.5" y="650.7" width="11.7" height="3.6" rx="0.8" fill="#fff" opacity="1"/>
<rect x="690" y="650.7" width="3" height="3.6" rx="0.8" fill="#fff" opacity="1"/>
<rect x="668" y="658.8" width="24" height="1.0" rx="0" fill="#fff" opacity="0.8"/>
<line x1="671.6" y1="665.6" x2="688.2" y2="670.6" stroke="#0a0a0a" stroke-width="5" stroke-linecap="butt"/>
<line x1="687.6" y1="670.8000000000001" x2="672.2" y2="672.6" stroke="#0a0a0a" stroke-width="1.6" />
<line x1="671.6" y1="672.8000000000001" x2="688.2" y2="677.8000000000001" stroke="#0a0a0a" stroke-width="5" stroke-linecap="butt"/>
<line x1="687.6" y1="678.0000000000001" x2="672.2" y2="679.8000000000001" stroke="#0a0a0a" stroke-width="1.6" />
<line x1="671.6" y1="680.0" x2="688.2" y2="685.0" stroke="#0a0a0a" stroke-width="5" stroke-linecap="butt"/>
<line x1="687.6" y1="685.2" x2="672.2" y2="687.0" stroke="#0a0a0a" stroke-width="1.6" />
<line x1="671.6" y1="687.2" x2="688.2" y2="692.2" stroke="#0a0a0a" stroke-width="5" stroke-linecap="butt"/>
<line x1="682" y1="690" x2="682" y2="696" stroke="#0a0a0a" stroke-width="2.4" />
<path d="M359.8,735 L359.8,771 Q359.8,776 362.3,777.6" fill="none" stroke="#0a0a0a" stroke-width="2.9" stroke-linecap="butt"/>
<line x1="364.3" y1="780.2" x2="368" y2="782" stroke="#0a0a0a" stroke-width="2.9" />
<line x1="375" y1="782.3" x2="418.7" y2="782.3" stroke="#0a0a0a" stroke-width="2.9" />
<line x1="425.5" y1="782.3" x2="429.5" y2="782.3" stroke="#0a0a0a" stroke-width="2.9" />
<line x1="436" y1="782.3" x2="480" y2="782.3" stroke="#0a0a0a" stroke-width="2.9" />
<line x1="486.5" y1="782.3" x2="490.5" y2="782.3" stroke="#0a0a0a" stroke-width="2.9" />
<line x1="497" y1="782.3" x2="541" y2="782.3" stroke="#0a0a0a" stroke-width="2.9" />
<line x1="547.5" y1="782.3" x2="551.5" y2="782.3" stroke="#0a0a0a" stroke-width="2.9" />
<line x1="558.5" y1="782.3" x2="607.5" y2="782.3" stroke="#0a0a0a" stroke-width="2.9" />
<line x1="612.5" y1="782.3" x2="616.5" y2="782.3" stroke="#0a0a0a" stroke-width="2.9" />
<line x1="622.5" y1="782.3" x2="668" y2="782.3" stroke="#0a0a0a" stroke-width="2.9" />
<path d="M673,782.2 Q682.6,781.4 682.6,772 L682.6,732" fill="none" stroke="#0a0a0a" stroke-width="2.9" stroke-linecap="butt"/>
<line x1="682.6" y1="723.5" x2="682.6" y2="727" stroke="#0a0a0a" stroke-width="2.9" />
<line x1="682.4" y1="695" x2="682.6" y2="719" stroke="#0a0a0a" stroke-width="2.9" />
</g>
</svg>
</body></html>
